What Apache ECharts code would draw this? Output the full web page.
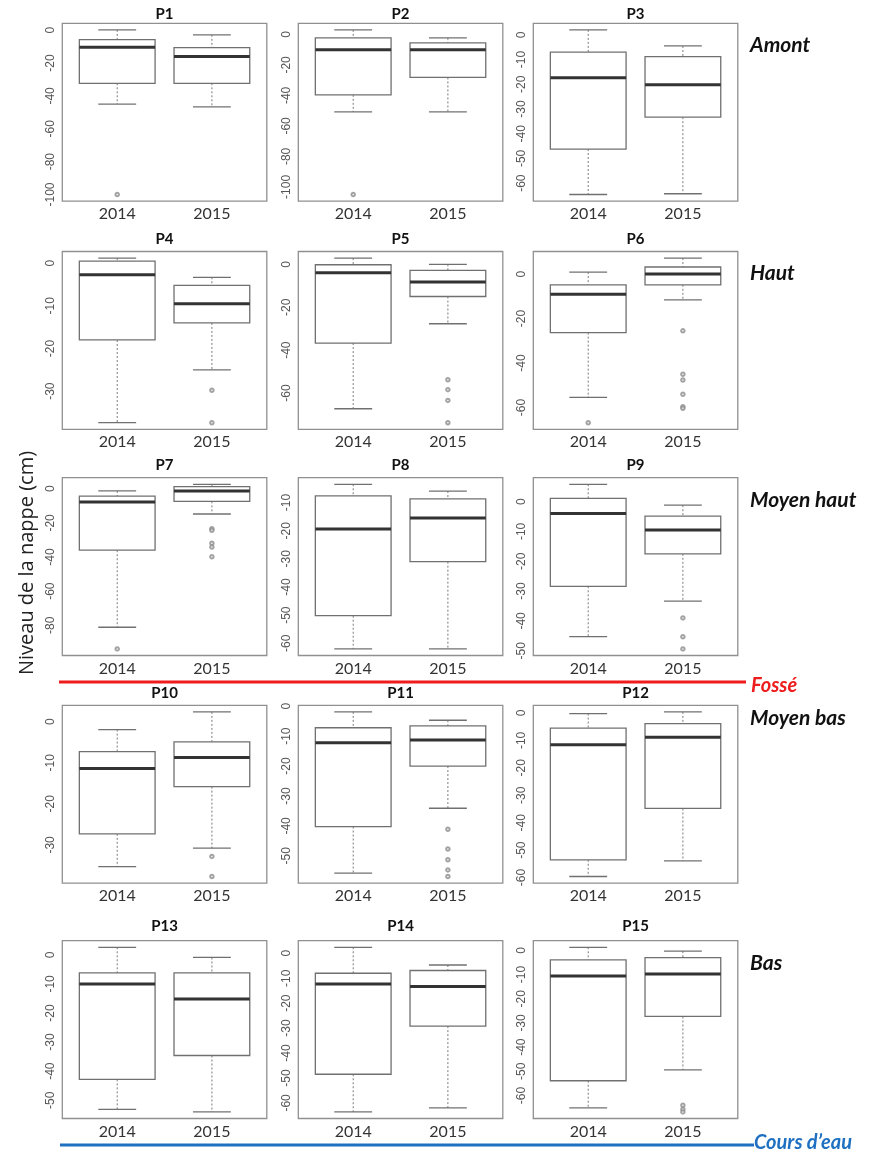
<!DOCTYPE html>
<html>
<head>
<meta charset="utf-8">
<script src="https://cdn.jsdelivr.net/npm/echarts@6/dist/echarts.min.js"></script>
<style>
html,body{margin:0;padding:0;background:#fff;}
#chart{width:874px;height:1153px;}
</style>
</head>
<body>
<div id="chart"></div>
<script>
// ---------- DATA ----------
const years = ['2014', '2015'];
const panelNames = ['P1','P2','P3','P4','P5','P6','P7','P8','P9','P10','P11','P12','P13','P14','P15'];
const zoneLabels = ['Amont', 'Haut', 'Moyen haut', 'Moyen bas', 'Bas'];
const yAxisTitle = 'Niveau de la nappe (cm)';
const ditchLabel = 'Fossé';
const streamLabel = 'Cours d\u2019eau';

// [lower whisker, Q1, median, Q3, upper whisker]
const stats2014 = [
  [-45, -32.3, -10.3, -5.7, 0.2],
  [-50.8, -39.6, -10.1, -2.2, 3.0],
  [-64.6, -46.2, -17.4, -7.0, 2.0],
  [-37.4, -18.0, -2.7, 0.5, 1.2],
  [-67.3, -36.7, -3.9, -0.2, 2.9],
  [-55.4, -26.3, -9.0, -4.8, 0.9],
  [-81.1, -36.0, -7.8, -4.3, -1.3],
  [-62.0, -50.2, -19.4, -7.6, -3.5],
  [-45.3, -28.4, -4.0, 1.1, 5.8],
  [-35.3, -27.3, -11.4, -7.3, -1.9],
  [-55.8, -40.2, -12.2, -7.2, -1.9],
  [-59.6, -53.5, -11.6, -5.5, -0.2],
  [-53.1, -42.8, -10.0, -6.2, 2.6],
  [-63.6, -48.5, -12.3, -8.0, 2.4],
  [-65.1, -53.9, -10.6, -3.9, 1.3]
];
const stats2015 = [
  [-46.7, -32.3, -16.0, -10.6, -2.8],
  [-50.8, -28.2, -10.1, -5.5, -2.2],
  [-64.3, -33.3, -20.2, -8.8, -4.5],
  [-25.0, -14.0, -9.5, -5.2, -3.3],
  [-27.7, -15.0, -8.2, -2.8, 0.0],
  [-11.6, -4.8, 0.1, 3.2, 7.2],
  [-14.8, -7.4, -1.3, 1.2, 2.6],
  [-62.0, -31.0, -15.5, -8.7, -5.9],
  [-33.4, -17.5, -9.5, -4.9, -1.2],
  [-30.8, -15.8, -8.7, -4.9, 2.4],
  [-34.1, -20.0, -11.3, -6.6, -4.7],
  [-53.9, -34.8, -8.8, -3.9, 0.4],
  [-54.0, -34.6, -15.2, -6.2, -0.9],
  [-62.0, -29.2, -13.3, -6.9, -4.7],
  [-49.4, -27.3, -9.8, -3.0, -0.3]
];
const outliers2014 = [
  [-100], [-105], [], [], [], [-66.8], [-93.8], [], [], [], [], [], [], [], []
];
const outliers2015 = [
  [], [], [], [-29.8, -37.4], [-53.8, -58.4, -63.4, -73.8],
  [-25.5, -45.0, -47.6, -54.0, -59.6, -60.3],
  [-23.4, -24.3, -31.9, -34.1, -39.8], [], [-39.0, -45.3, -49.4],
  [-32.8, -37.7], [-41.1, -47.7, -51.3, -54.7, -56.9], [], [], [],
  [-64.0, -65.7, -66.8]
];
const tickValues = [
  [-100, -80, -60, -40, -20, 0],
  [-100, -80, -60, -40, -20, 0],
  [-60, -50, -40, -30, -20, -10, 0],
  [-30, -20, -10, 0],
  [-60, -40, -20, 0],
  [-60, -40, -20, 0],
  [-80, -60, -40, -20, 0],
  [-60, -50, -40, -30, -20, -10],
  [-50, -40, -30, -20, -10, 0],
  [-30, -20, -10, 0],
  [-50, -40, -30, -20, -10, 0],
  [-60, -50, -40, -30, -20, -10, 0],
  [-50, -40, -30, -20, -10, 0],
  [-60, -50, -40, -30, -20, -10, 0],
  [-60, -50, -40, -30, -20, -10, 0]
];

// ---------- LAYOUT ----------
const colLeft = [62.3, 298.3, 533.3];
const rowTop = [23.3, 251.5, 477.7, 705.3, 940.7];
const panelW = 204.5, panelH = 177.8;
const titleY = [14, 239, 465, 693, 926];
const zoneY = [45, 273, 500, 718, 963];

const FRAME = '#909090';
const BOXC = '#707070';

function yRange(i) {
  const vals = [].concat(stats2014[i], stats2015[i], outliers2014[i], outliers2015[i]);
  const mn = Math.min.apply(null, vals), mx = Math.max.apply(null, vals);
  const pad = (mx - mn) * 0.04;
  return [mn - pad, mx + pad];
}

function renderBox(params, api) {
  const x = api.value(0);
  const lo = api.coord([x, api.value(1)]);
  const q1 = api.coord([x, api.value(2)]);
  const md = api.coord([x, api.value(3)]);
  const q3 = api.coord([x, api.value(4)]);
  const hi = api.coord([x, api.value(5)]);
  const bw = api.size([0.8, 0], [x, api.value(3)])[0];
  const half = bw / 2, cap = bw / 4;
  const cx = md[0];
  const dash = {stroke: '#7a7a7a', lineWidth: 1, lineDash: [2, 2]};
  const solid = {stroke: BOXC, lineWidth: 1.3};
  return {
    type: 'group',
    children: [
      {type: 'line', shape: {x1: cx, y1: hi[1], x2: cx, y2: q3[1]}, style: dash},
      {type: 'line', shape: {x1: cx, y1: q1[1], x2: cx, y2: lo[1]}, style: dash},
      {type: 'line', shape: {x1: cx - cap, y1: hi[1], x2: cx + cap, y2: hi[1]}, style: solid},
      {type: 'line', shape: {x1: cx - cap, y1: lo[1], x2: cx + cap, y2: lo[1]}, style: solid},
      {type: 'rect', shape: {x: cx - half, y: q3[1], width: bw, height: q1[1] - q3[1]},
        style: {fill: '#ffffff', stroke: BOXC, lineWidth: 1.3}},
      {type: 'line', shape: {x1: cx - half, y1: md[1], x2: cx + half, y2: md[1]},
        style: {stroke: '#333333', lineWidth: 3}}
    ]
  };
}

const grids = [], xAxes = [], yAxes = [], series = [], graphics = [];

panelNames.forEach(function (name, i) {
  const r = Math.floor(i / 3), c = i % 3;
  const rng = yRange(i);
  grids.push({
    left: colLeft[c], top: rowTop[r], width: panelW, height: panelH,
    show: true, borderColor: FRAME, borderWidth: 1.3, backgroundColor: 'transparent',
    containLabel: false, outerBoundsMode: 'none'
  });
  xAxes.push({
    gridIndex: i, type: 'value', min: -0.58, max: 1.58,
    axisLine: {show: false}, axisTick: {show: false}, splitLine: {show: false},
    axisLabel: {
      customValues: [0, 1],
      formatter: function (v) { return years[Math.round(v)]; },
      fontFamily: 'Lato', fontSize: 16, color: '#333', margin: 5
    }
  });
  yAxes.push({
    gridIndex: i, type: 'value', min: rng[0], max: rng[1],
    axisLine: {show: false}, axisTick: {show: false}, splitLine: {show: false},
    axisLabel: {
      customValues: tickValues[i],
      rotate: 90, fontFamily: 'Liberation Sans', fontSize: 12, color: '#555',
      margin: 6, showMinLabel: true, showMaxLabel: true
    }
  });
  series.push({
    type: 'custom', xAxisIndex: i, yAxisIndex: i, clip: false,
    renderItem: renderBox,
    encode: {x: 0, y: [1, 2, 3, 4, 5]},
    data: [[0].concat(stats2014[i]), [1].concat(stats2015[i])],
    silent: true
  });
  const outs = outliers2014[i].map(function (v) { return [0, v]; })
    .concat(outliers2015[i].map(function (v) { return [1, v]; }));
  series.push({
    type: 'scatter', xAxisIndex: i, yAxisIndex: i,
    symbol: 'emptyCircle', symbolSize: 3.5,
    itemStyle: {color: '#8c8c8c', borderColor: '#8c8c8c', borderWidth: 1},
    data: outs, silent: true, z: 5
  });
  graphics.push({
    type: 'text', x: colLeft[c] + panelW / 2, y: titleY[r],
    style: {text: name, fontFamily: 'Lato', fontWeight: 'bold', fontSize: 15,
      fill: '#111', align: 'center', verticalAlign: 'middle'}
  });
});

zoneLabels.forEach(function (z, r) {
  graphics.push({
    type: 'text', x: 750, y: zoneY[r],
    style: {text: z, fontFamily: 'Lato', fontWeight: 'bold', fontStyle: 'italic',
      fontSize: 21, fill: '#111', align: 'left', verticalAlign: 'middle'}
  });
});

graphics.push({
  type: 'text', x: 27, y: 563, rotation: Math.PI / 2,
  style: {text: yAxisTitle, fontFamily: 'Open Sans', fontSize: 20, fill: '#222',
    align: 'center', verticalAlign: 'middle'}
});
graphics.push({
  type: 'line', shape: {x1: 59, y1: 682, x2: 746, y2: 682},
  style: {stroke: '#ee1c1c', lineWidth: 3}
});
graphics.push({
  type: 'text', x: 751, y: 686,
  style: {text: ditchLabel, fontFamily: 'Lato', fontWeight: 'bold', fontStyle: 'italic',
    fontSize: 20, fill: '#ee1c1c', align: 'left', verticalAlign: 'middle'}
});
graphics.push({
  type: 'line', shape: {x1: 60, y1: 1145, x2: 754, y2: 1145},
  style: {stroke: '#1f70c1', lineWidth: 3}
});
graphics.push({
  type: 'text', x: 754, y: 1143,
  style: {text: streamLabel, fontFamily: 'Lato', fontWeight: 'bold', fontStyle: 'italic',
    fontSize: 20, fill: '#1f70c1', align: 'left', verticalAlign: 'middle'}
});

const chart = echarts.init(document.getElementById('chart'), null, {renderer: 'canvas'});
chart.setOption({
  animation: false,
  backgroundColor: '#ffffff',
  grid: grids,
  xAxis: xAxes,
  yAxis: yAxes,
  series: series,
  graphic: {elements: graphics}
});
</script>
</body>
</html>
